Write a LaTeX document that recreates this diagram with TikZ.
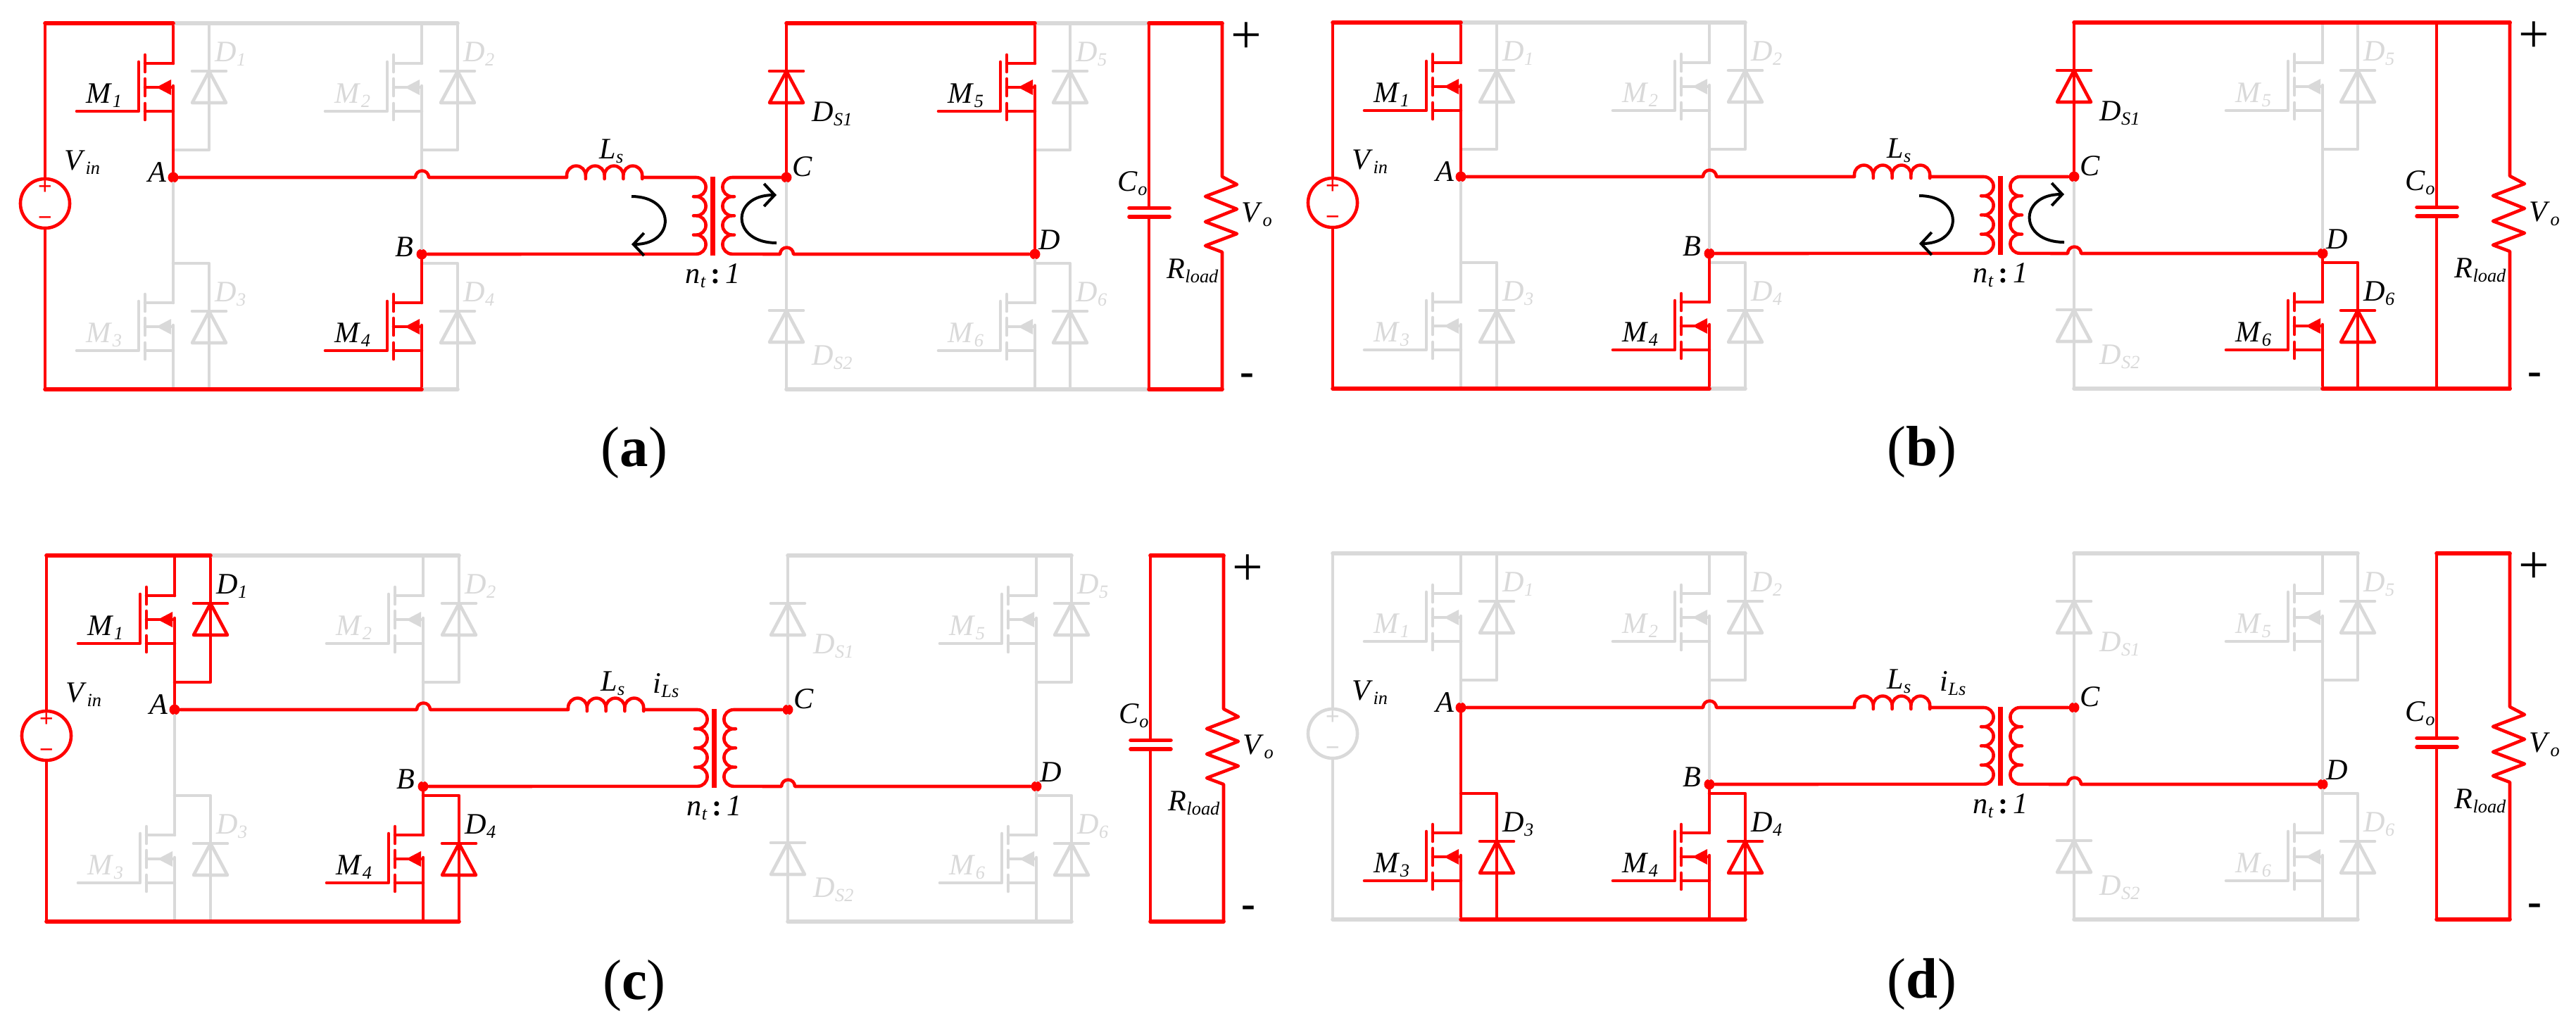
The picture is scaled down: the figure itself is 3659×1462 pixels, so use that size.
\documentclass[tikz,border=0pt]{standalone}
\usepackage{fontspec}
\setmainfont{Liberation Serif}
\usetikzlibrary{arrows.meta}

\definecolor{wirecond}{RGB}{255,0,0}
\definecolor{wireidle}{RGB}{217,217,217}

\tikzset{
  wire/.style={line width=0.046cm,line cap=round,line join=round},
  bus/.style={line width=0.056cm,line cap=round,line join=round},
  cond/.style={color=wirecond},
  idle/.style={color=wireidle},
  cond text/.style={text=black},
  idle text/.style={text=wireidle},
  lab/.style={anchor=base west,inner sep=0pt,font=\fontsize{12}{14}\selectfont},
  dot/.style={circle,fill=wirecond,inner sep=0pt,minimum size=0.15cm},
  flow/.style={line width=0.04cm,black,-{Straight Barb[length=0.15cm,width=0.32cm]}},
  panellabel/.style={inner sep=0pt,font=\fontsize{23}{26}\selectfont}
}

\newcommand{\lab}[2]{\textit{#1}\raisebox{-1.8pt}{\fontsize{7.5}{8}\selectfont\textit{#2}}}

% x, source y, index, state
\newcommand{\fet}[4]{
  \begin{scope}[shift={(#1,#2)},#4]
    \draw[wire] (0,34) -- (-40,34);
    \draw[wire] (0,-34) -- (-40,-34);
    \draw[wire] (-40,0) -- (-3,0);
    \fill (-24,0) -- (-3,11) -- (-3,-11) -- cycle;
    \draw[wire] (-40,46) -- (-40,22);
    \draw[wire] (-40,12) -- (-40,-12);
    \draw[wire] (-40,-23) -- (-40,-46);
    \draw[wire] (-49,36) -- (-49,-34) -- (-137,-34);
    \node[lab,#4 text] (M#3) at (-124,-22) {\lab{M}{#3}};
  \end{scope}
}

% x, bar y, index, label offset, state
\newcommand{\diode}[5]{
  \begin{scope}[shift={(#1,#2)},#5]
    \draw[wire] (-24,0) -- (24,0);
    \draw[wire] (0,0) -- (24,-45) -- (-24,-45) -- cycle;
    \draw[wire] (0,0) -- (0,-45);
    \node[lab,#5 text] (D#3) at #4 {\lab{D}{#3}};
  \end{scope}
}

% x, diode x, index, fet state, diode state, node below
\newcommand{\upcell}[6]{
  \draw[wire,#5] (#2,-33) -- (#2,-213) -- (#1,-213);
  \diode{#2}{-101}{#3}{(8,14)}{#5}
  \draw[wire,#4] (#1,-33) -- (#1,-90);
  \draw[wire,#4] (#1,-122) -- (#6);
  \fet{#1}{-124}{#3}{#4}
}

% x, diode x, index, fet state, diode state, node above
\newcommand{\lowcell}[6]{
  \draw[wire,#5] (#1,-374) -- (#2,-374) -- (#2,-553);
  \diode{#2}{-442}{#3}{(8,14)}{#5}
  \draw[wire,#4] (#6) -- (#1,-430);
  \draw[wire,#4] (#1,-462) -- (#1,-553);
  \fet{#1}{-464}{#3}{#4}
}

\newcommand{\junctions}{
  \coordinate (t0) at (64,-33);
  \coordinate (t1) at (246,-33);
  \coordinate (t1d) at (297,-33);
  \coordinate (t2d) at (650,-33);
  \coordinate (t3) at (1117,-33);
  \coordinate (t4) at (1470,-33);
  \coordinate (t4d) at (1520,-33);
  \coordinate (t5) at (1632,-33);
  \coordinate (t6) at (1736,-33);
  \coordinate (b0) at (64,-553);
  \coordinate (b1) at (246,-553);
  \coordinate (b2) at (599,-553);
  \coordinate (b2d) at (650,-553);
  \coordinate (b3) at (1117,-553);
  \coordinate (b4) at (1470,-553);
  \coordinate (b4d) at (1520,-553);
  \coordinate (b5) at (1632,-553);
  \coordinate (b6) at (1736,-553);
  \node[dot] (A) at (246,-252) {};
  \node[dot] (B) at (599,-361) {};
  \node[dot] (C) at (1117,-252) {};
  \node[dot] (D) at (1470,-361) {};
}

% state
\newcommand{\source}[1]{
  \node[wire,#1,draw,circle,inner sep=0pt,minimum size=0.7cm] (vs) at (64,-289) {};
  \draw[wire,#1] (t0) -- (vs);
  \draw[wire,#1] (vs) -- (b0);
  \node[#1,inner sep=0pt,font=\bfseries\fontsize{10}{10}\selectfont] (vsplus) at (64,-267) {+};
  \node[#1,inner sep=0pt,font=\bfseries\fontsize{10}{10}\selectfont] (vsminus) at (64,-314) {−};
  \node[lab] (Vin) at (91,-241) {\lab{V}{in}};
}

% DS1 state, DS2 state
\newcommand{\rectif}[2]{
  \draw[wire,#2] (C) -- (b3);
  \diode{1117}{-441}{S2}{(36,-77)}{#2}
  \draw[wire,#1] (t3) -- (C);
  \diode{1117}{-101}{S1}{(36,-71)}{#1}
}

\newcommand{\bridge}{
  % Primary side
  \draw[wire,cond] (A) -- (590,-252) arc[start angle=180,end angle=0,radius=9.5]
    -- (805,-252) -- ++(0,3)
    \foreach \i in {1,...,4} {arc[start angle=180,end angle=0,radius=13.4] -- ++(0,-5) -- ++(0,5)}
    -- (912,-252) -- (989,-252)
    \foreach \i in {1,...,3} {arc[start angle=90,end angle=-90,radius=13.6] -- ++(-4,0) -- ++(4,0)}
    arc[start angle=90,end angle=-90,radius=13.6] -- (B);
  \draw[line width=0.07cm,cond] (1012,-251) -- (1012,-363);
  % Secondary side
  \draw[wire,cond] (C) -- (1040,-252)
    \foreach \i in {1,...,3} {arc[start angle=90,end angle=270,radius=13.6] -- ++(3,0) -- ++(-3,0)}
    arc[start angle=90,end angle=270,radius=13.6] -- (1108,-361)
    arc[start angle=180,end angle=0,radius=9.5] -- (D);
  % Output
  \draw[bus,cond] (t5) -- (t6);
  \draw[bus,cond] (b5) -- (b6);
  \draw[wire,cond] (t5) -- (1632,-295.5);
  \draw[wire,cond] (1632,-308) -- (b5);
  \draw[bus,cond] (1604,-295.5) -- (1661,-295.5);
  \draw[bus,cond] (1604,-308) -- (1661,-308);
  \draw[wire,cond] (t6) -- (1736,-251) -- (1757,-262) -- (1712,-279) -- (1757,-297)
    -- (1712,-315) -- (1757,-332) -- (1712,-349) -- (1736,-358) -- (b6);
  % Labels
  \node[lab] (lA) at (210,-258) {\textit{A}};
  \node[lab] (lB) at (561,-364) {\textit{B}};
  \node[lab] (lC) at (1125,-250) {\textit{C}};
  \node[lab] (lD) at (1475,-354) {\textit{D}};
  \node[lab] (Ls) at (851,-225) {\lab{L}{s}};
  \node[lab] (nt) at (973,-402) {\lab{n}{t}\,\textbf{:}\,\textit{1}};
  \node[lab] (Co) at (1587,-271) {\lab{C}{o}};
  \node[lab] (Vo) at (1763,-315) {\lab{V}{o}};
  \node[lab] (Rload) at (1657,-395) {\lab{R}{load}};
  \node[inner sep=0pt,font=\fontsize{22}{22}\selectfont] (plus) at (1770,-54) {+};
  \node[inner sep=0pt,font=\bfseries\fontsize{17}{18}\selectfont] (minus) at (1771,-539) {-};
}

\newcommand{\loops}{
  \coordinate (fa) at (897,-279);
  \coordinate (fb) at (897,-347);
  \coordinate (fc) at (1103,-345);
  \coordinate (fd) at (1103,-277);
  \draw[flow] (fa) .. controls (960,-279) and (960,-347) .. (fb);
  \draw[flow] (fc) .. controls (1038,-345) and (1038,-277) .. (fd);
}

\begin{document}
\begin{tikzpicture}[x=0.01cm,y=0.01cm]
  \useasboundingbox (0,0) rectangle (3659,-1462);

  % Panel a
  \begin{scope}[shift={(0,0)},name prefix=a-]
    \junctions
    \source{cond}
    \upcell{246}{297}{1}{cond}{idle}{A}
    \upcell{599}{650}{2}{idle}{idle}{B}
    \upcell{1470}{1520}{5}{cond}{idle}{D}
    \lowcell{246}{297}{3}{idle}{idle}{A}
    \lowcell{599}{650}{4}{cond}{idle}{B}
    \lowcell{1470}{1520}{6}{idle}{idle}{D}
    \rectif{cond}{idle}
    \draw[bus,idle] (t1) -- (t2d);
    \draw[bus,idle] (t4) -- (t5);
    \draw[bus,idle] (b2) -- (b2d);
    \draw[bus,idle] (b3) -- (b5);
    \draw[bus,cond] (t1) -- (t0);
    \draw[bus,cond] (t3) -- (t4);
    \draw[bus,cond] (b0) -- (b2);
    \bridge
    \loops
    \node[panellabel] (capa) at (901,-643) {(\textbf{a})};
  \end{scope}

  % Panel b
  \begin{scope}[shift={(1829,1)},name prefix=b-]
    \junctions
    \source{cond}
    \upcell{246}{297}{1}{cond}{idle}{A}
    \upcell{599}{650}{2}{idle}{idle}{B}
    \upcell{1470}{1520}{5}{idle}{idle}{D}
    \lowcell{246}{297}{3}{idle}{idle}{A}
    \lowcell{599}{650}{4}{cond}{idle}{B}
    \lowcell{1470}{1520}{6}{cond}{cond}{D}
    \rectif{cond}{idle}
    \draw[bus,idle] (t1) -- (t2d);
    \draw[bus,idle] (b2) -- (b2d);
    \draw[bus,idle] (b3) -- (b4);
    \draw[bus,cond] (t1) -- (t0);
    \draw[bus,cond] (t3) -- (t6);
    \draw[bus,cond] (b0) -- (b2);
    \draw[bus,cond] (b4) -- (b6);
    \bridge
    \loops
    \node[panellabel] (capb) at (901,-643) {(\textbf{b})};
  \end{scope}

  % Panel c
  \begin{scope}[shift={(2,-756)},name prefix=c-]
    \junctions
    \source{cond}
    \upcell{246}{297}{1}{cond}{cond}{A}
    \upcell{599}{650}{2}{idle}{idle}{B}
    \upcell{1470}{1520}{5}{idle}{idle}{D}
    \lowcell{246}{297}{3}{idle}{idle}{A}
    \lowcell{599}{650}{4}{cond}{cond}{B}
    \lowcell{1470}{1520}{6}{idle}{idle}{D}
    \rectif{idle}{idle}
    \draw[bus,idle] (t1d) -- (t2d);
    \draw[bus,idle] (t3) -- (t4d);
    \draw[bus,idle] (b3) -- (b4d);
    \draw[bus,cond] (t0) -- (t1d);
    \draw[bus,cond] (b0) -- (b2d);
    \bridge
    \node[lab] (iLs) at (925,-228) {\lab{i}{Ls}};
    \node[panellabel] (capc) at (899,-644) {(\textbf{c})};
  \end{scope}

  % Panel d
  \begin{scope}[shift={(1829,-753)},name prefix=d-]
    \junctions
    \source{idle}
    \upcell{246}{297}{1}{idle}{idle}{A}
    \upcell{599}{650}{2}{idle}{idle}{B}
    \upcell{1470}{1520}{5}{idle}{idle}{D}
    \lowcell{246}{297}{3}{cond}{cond}{A}
    \lowcell{599}{650}{4}{cond}{cond}{B}
    \lowcell{1470}{1520}{6}{idle}{idle}{D}
    \rectif{idle}{idle}
    \draw[bus,idle] (t0) -- (t2d);
    \draw[bus,idle] (t3) -- (t4d);
    \draw[bus,idle] (b0) -- (b1);
    \draw[bus,idle] (b3) -- (b4d);
    \draw[bus,cond] (b1) -- (b2d);
    \bridge
    \node[lab] (iLs) at (926,-228) {\lab{i}{Ls}};
    \node[panellabel] (capd) at (901,-645) {(\textbf{d})};
  \end{scope}
\end{tikzpicture}
\end{document}
